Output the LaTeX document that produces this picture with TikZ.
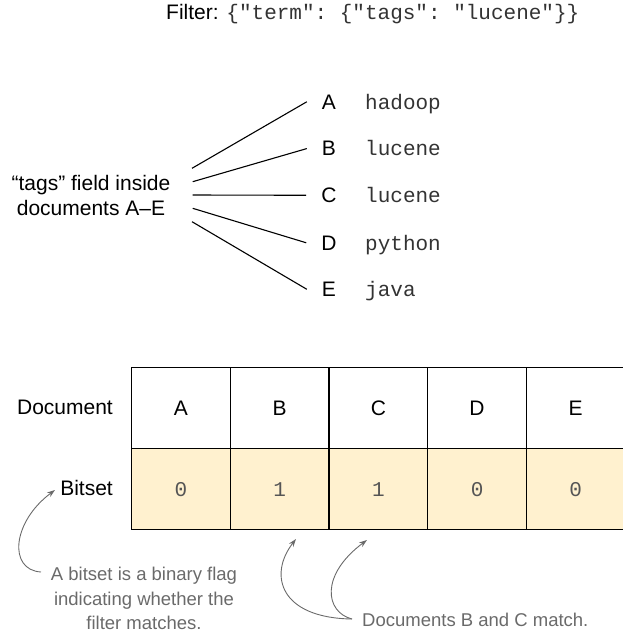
\documentclass[tikz,border=0pt]{standalone}
\usepackage{fontspec}
\setmainfont{Liberation Sans}
\setmonofont{Liberation Mono}
\usetikzlibrary{arrows.meta}
\definecolor{cellfill}{HTML}{FFF1CF}
\definecolor{annot}{HTML}{6A6A6A}
\definecolor{digit}{HTML}{555555}
\definecolor{codegray}{HTML}{333333}
\begin{document}
\begin{tikzpicture}[x=1pt,y=-1pt,
  lbl/.style={font=\fontsize{21}{25}\selectfont, inner sep=0pt},
  mono/.style={font=\fontsize{21}{25}\selectfont\ttfamily, text=codegray, inner sep=0pt},
  link/.style={line width=1.1pt},
  cell/.style={draw=black, line width=1.2pt, minimum width=98.7pt, minimum height=81pt,
    inner sep=0pt, anchor=north west, font=\fontsize{21}{25}\selectfont},
  bitcell/.style={cell, fill=cellfill, font=\fontsize{21}{25}\selectfont\ttfamily, text=digit},
  note/.style={font=\fontsize{18.5}{24.5}\selectfont, text=annot, align=center, inner sep=0pt},
  notearrow/.style={draw=annot, line width=0.9pt, -{Stealth[length=8pt,width=5.5pt]}}
]
\useasboundingbox (0,0) rectangle (623,633);

% filter line
\node[lbl, anchor=base west] (filter) at (166,19)
  {Filter: {\ttfamily\color{codegray}\{"term": \{"tags": "lucene"\}\}}};

% tags field
\node[lbl, align=center] (tags) at (91,195) {“tags” field inside\\documents A–E};

\foreach \n/\l/\w/\y in {a/A/hadoop/109, b/B/lucene/155.8, c/C/lucene/202.5, d/D/python/250, e/E/java/296.5}{
  \node[lbl, anchor=base] (l\n) at (329,\y) {\l};
  \node[mono, anchor=base west] (w\n) at (365,\y) {\w};
}

\coordinate (s1) at (192,168.3);
\coordinate (s2) at (192.7,181.7);
\coordinate (s3) at (192.7,195);
\coordinate (s4) at (192.7,208.3);
\coordinate (s5) at (192,221.7);
\draw[link] (s1) -- ([xshift=-15pt]la.west);
\draw[link] (s2) -- ([xshift=-15pt]lb.west);
\draw[link] (s3) -- ([xshift=-15pt]lc.west);
\draw[link] (s4) -- ([xshift=-15pt]ld.west);
\draw[link] (s5) -- ([xshift=-15pt]le.west);

% table
\node[lbl, anchor=east] (doclbl) at (113,407.5) {Document};
\node[lbl, anchor=east] (bitlbl) at (113,488) {Bitset};
\foreach \i/\l/\b in {1/A/0, 2/B/1, 3/C/1, 4/D/0, 5/E/0}{
  \node[cell] (d\i) at ({131+(\i-1)*98.7},367) {\l};
  \node[bitcell] (b\i) at ({131+(\i-1)*98.7},448) {\b};
}

% annotations
\node[note] (n1) at (144,598.5) {A bitset is a binary flag\\indicating whether the\\filter matches.};
\node[note, anchor=base west] (n2) at (362,626) {Documents B and C match.};

\coordinate (t1) at (41,572);
\coordinate (h1) at (55,490);
\draw[notearrow] (t1) .. controls (8,570) and (12,522) .. (h1);

\coordinate (t2) at (352,619);
\coordinate (h2) at (296,539);
\coordinate (h3) at (367,540);
\draw[notearrow] (t2) .. controls (280,618) and (268,575) .. (h2);
\draw[notearrow] (t2) .. controls (325,612) and (320,575) .. (h3);
\end{tikzpicture}
\end{document}
